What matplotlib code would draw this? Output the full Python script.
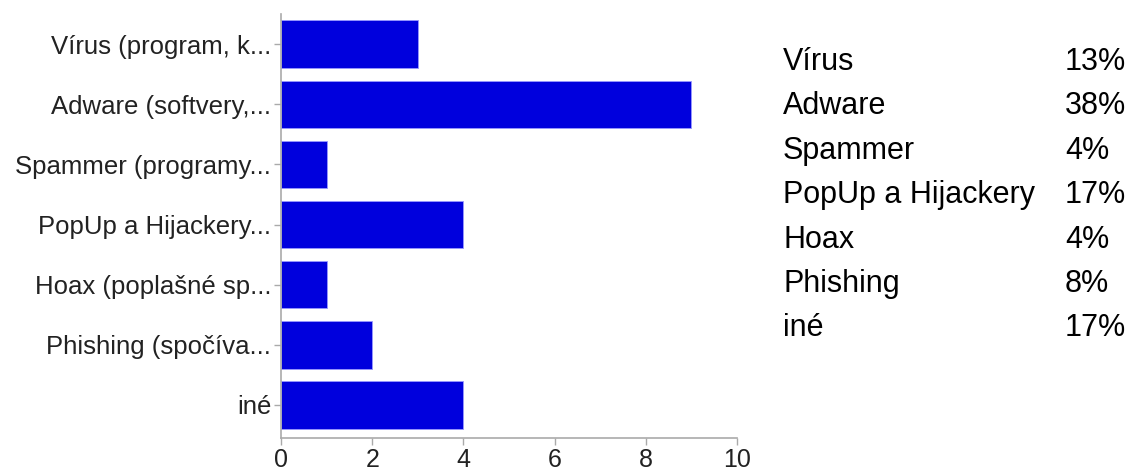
import matplotlib.pyplot as plt

# Categories (truncated labels as shown) and answer counts
labels = ["Vírus (program, k...", "Adware (softvery,...", "Spammer (programy...",
          "PopUp a Hijackery...", "Hoax (poplašné sp...", "Phishing (spočíva...", "iné"]
counts = [3, 9, 1, 4, 1, 2, 4]

legend_names = ["Vírus", "Adware", "Spammer", "PopUp a Hijackery", "Hoax", "Phishing", "iné"]
legend_pcts = ["13%", "38%", "4%", "17%", "4%", "8%", "17%"]
xticks = [0, 2, 4, 6, 8, 10]

plt.rcParams['font.family'] = ['Liberation Sans', 'DejaVu Sans']

fig = plt.figure(figsize=(11.31, 4.70), dpi=100)
ax = fig.add_axes([0.2485, 0.068, 0.4031, 0.902])

ypos = list(range(len(labels)))
ax.barh(ypos, counts, height=0.79, color='#0000DD', edgecolor='#9999ff', linewidth=0.6)

ax.set_ylim(6.55, -0.5)
ax.set_xlim(0, 10)
ax.set_xticks(xticks)
ax.set_xticklabels([str(t) for t in xticks], fontsize=18)
ax.set_yticks(ypos)
ax.set_yticklabels(labels, fontsize=18.5, color='#222222')

for s in ['top', 'right']:
    ax.spines[s].set_visible(False)
for s in ['left', 'bottom']:
    ax.spines[s].set_color('#aaaaaa')
    ax.spines[s].set_linewidth(1.2)
ax.tick_params(axis='both', colors='#aaaaaa', length=5, width=1)
ax.tick_params(axis='y', labelcolor='#222222', pad=2)
ax.tick_params(axis='x', labelcolor='#222222', pad=2)

# Side table of percentages
row_y0 = 1 - 62 / 470
row_step = 44.4 / 470
for i, (name, pct) in enumerate(zip(legend_names, legend_pcts)):
    y = row_y0 - i * row_step
    fig.text(783 / 1131, y, name, fontsize=22, va='center', ha='left', color='black')
    fig.text(1065 / 1131, y, pct, fontsize=22, va='center', ha='left', color='black')

fig.savefig("out.png", dpi=100)
